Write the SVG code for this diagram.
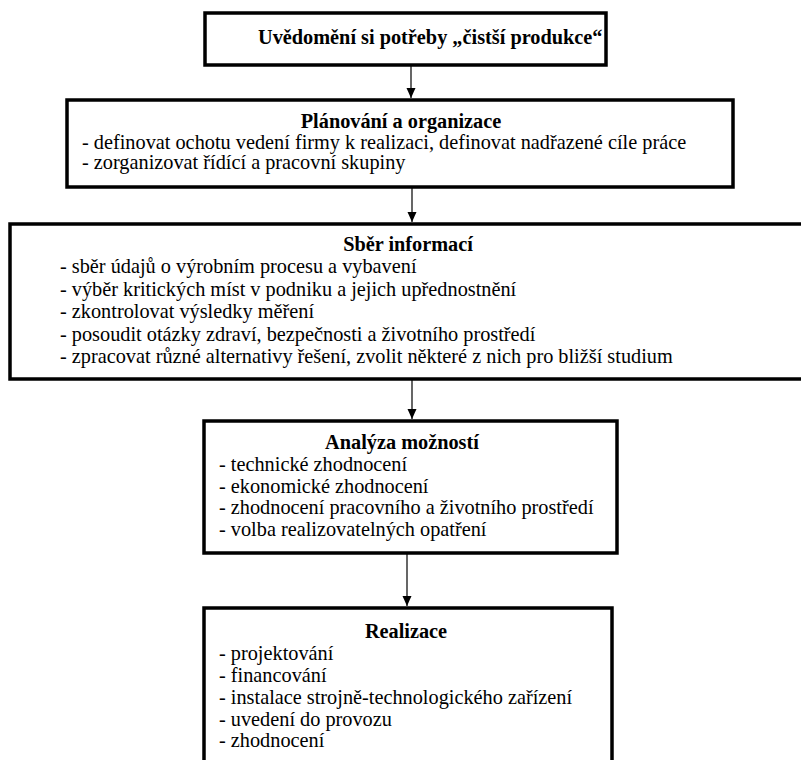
<svg xmlns="http://www.w3.org/2000/svg" width="801" height="760" viewBox="0 0 801 760">
<style>
.box{fill:#fff;stroke:#000;stroke-width:3.5}
text{font-family:'Liberation Serif','Times New Roman',Tinos,'DejaVu Serif',serif;font-size:20.3px;fill:#000}
.b{font-weight:bold}
.c{stroke:#000;stroke-width:1.2;fill:none}
</style>
<defs>
<marker id="ah" viewBox="0 0 10 10" refX="10" refY="5" markerWidth="10" markerHeight="10" markerUnits="userSpaceOnUse" orient="auto">
<path d="M0,0.5 L10,5 L0,9.5 Z" fill="#000"/>
</marker>
</defs>
<rect width="801" height="760" fill="#fff"/>
<g id="connectors">
<line class="c" x1="411" y1="65" x2="411" y2="98" marker-end="url(#ah)"/>
<line class="c" x1="412" y1="188" x2="412" y2="222" marker-end="url(#ah)"/>
<line class="c" x1="412" y1="380" x2="412" y2="419" marker-end="url(#ah)"/>
<line class="c" x1="407" y1="554" x2="407" y2="606" marker-end="url(#ah)"/>
</g>
<g id="node1">
<rect class="box" x="205" y="13" width="401" height="52"/>
<text class="b" x="258" y="44" font-family="Liberation Serif, serif">Uvědomění si potřeby „čistší produkce“</text>
</g>
<g id="node2">
<rect class="box" x="67" y="100" width="666" height="87"/>
<text class="b" x="401" y="128" text-anchor="middle">Plánování a organizace</text>
<text x="82" y="149">- definovat ochotu vedení firmy k realizaci, definovat nadřazené cíle práce</text>
<text x="82" y="169">- zorganizovat řídící a pracovní skupiny</text>
</g>
<g id="node3">
<rect class="box" x="10" y="224" width="800" height="155"/>
<text class="b" x="408" y="251" text-anchor="middle">Sběr informací</text>
<text x="60" y="273">- sběr údajů o výrobním procesu a vybavení</text>
<text x="60" y="296">- výběr kritických míst v podniku a jejich upřednostnění</text>
<text x="60" y="318">- zkontrolovat výsledky měření</text>
<text x="60" y="341">- posoudit otázky zdraví, bezpečnosti a životního prostředí</text>
<text x="60" y="363">- zpracovat různé alternativy řešení, zvolit některé z nich pro bližší studium</text>
</g>
<g id="node4">
<rect class="box" x="204" y="421" width="413" height="132"/>
<text class="b" x="402" y="449" text-anchor="middle">Analýza možností</text>
<text x="219" y="471">- technické zhodnocení</text>
<text x="219" y="493">- ekonomické zhodnocení</text>
<text x="219" y="514">- zhodnocení pracovního a životního prostředí</text>
<text x="219" y="536">- volba realizovatelných opatření</text>
</g>
<g id="node5">
<rect class="box" x="204" y="608" width="408" height="170"/>
<text class="b" x="406" y="638" text-anchor="middle">Realizace</text>
<text x="219" y="660">- projektování</text>
<text x="219" y="682">- financování</text>
<text x="219" y="704">- instalace strojně-technologického zařízení</text>
<text x="219" y="726">- uvedení do provozu</text>
<text x="219" y="747">- zhodnocení</text>
</g>
</svg>
